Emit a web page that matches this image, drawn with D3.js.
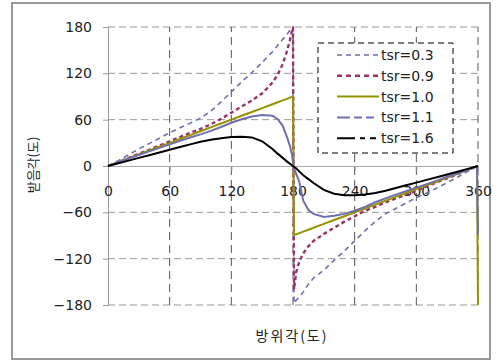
<!DOCTYPE html>
<html>
<head>
<meta charset="utf-8">
<script src="https://cdn.jsdelivr.net/npm/d3@7"></script>
<style>
  body { margin: 0; background: #fff; }
  svg { font-family: "DejaVu Sans", sans-serif; }
  .kr { font-family: "Noto Sans CJK KR", sans-serif; }
</style>
</head>
<body>
<svg id="chart" width="498" height="363"></svg>
<script>
// azimuth angle (deg)
var theta = [0,10,20,30,40,50,60,70,80,90,100,110,120,130,140,150,160,165,170,174,177,179,180,
             181,183,186,190,195,200,210,220,230,240,250,260,270,280,290,300,310,320,330,340,350,359,360]

// angle of attack (deg)
var tsr03 = [0,7,14.5,22,29,36,43,49.5,55.5,62,71,83,96,109,121,134,148,156,164,170,176,179,180,
             -178,-174,-170,-163,-153,-145,-135,-122,-110,-97,-84,-72,-62,-55,-48,-41,-35,-28.5,-21.5,-14.5,-7,-0.7,0]
var tsr09 = [0,5,10.5,16,21,26.5,32,37.5,43,48,54,61,69,77,85,94,108,118,132,148,163,175,180,
             -160,-138,-124,-113,-104,-97,-88,-80,-72,-65,-58,-53,-47,-42,-37,-32,-26.5,-21,-16,-10.5,-5,-0.5,0]
var tsr10 = [0,5,10,15,20,25,30,35,40,45,50,55,60,65,70,75,80,82.5,85,87,88.5,89.5,90,
             -89,-88.5,-87,-85,-82.5,-80,-75,-70,-65,-60,-55,-50,-45,-40,-35,-30,-25,-20,-15,-10,-5,-0.5,-180]
var tsr11 = [0,4.8,9.5,14.2,19,23.5,28,32.5,37,41,45.5,50.5,56,60.5,64,66,65,61,52,38,26,15,5,
             -3,-10,-20,-45,-57,-62,-66,-64.5,-62,-58,-53,-47,-42,-37,-32.5,-28,-23.5,-19,-14,-9.5,-4.8,-0.5,-88]
var tsr16 = [0,3.5,7,10.5,14,17.5,21,24.5,28,31.5,34,36,37.5,38,37,32,22,16,10.5,6,3,1,0,
             -1,-3,-7,-12,-17,-22,-31,-36,-38,-38,-37,-35,-32,-28.5,-25,-21.5,-18,-14.5,-11,-7.5,-3.7,-0.3,0]

var seriesNames = ['tsr=0.3','tsr=0.9','tsr=1.0','tsr=1.1','tsr=1.6']
var xTicks = [0,60,120,180,240,300,360]
var yTicks = [-180,-120,-60,0,60,120,180]

var svg = d3.select('#chart')

// outer frame
svg.append('rect')
  .attr('x', 12).attr('y', 3).attr('width', 478).attr('height', 356)
  .attr('fill', 'none').attr('stroke', '#999').attr('stroke-width', 2)

var x = d3.scaleLinear().domain([0, 360]).range([108, 478])
var y = d3.scaleLinear().domain([-180, 180]).range([305, 27])

// grid
svg.append('g').selectAll('line')
  .data(yTicks.filter(d => d != 0)).enter().append('line')
  .attr('x1', x(0)).attr('x2', x(360))
  .attr('y1', d => y(d)).attr('y2', d => y(d))
  .attr('stroke', '#999').attr('stroke-dasharray', '7,4')

svg.append('g').selectAll('line')
  .data(xTicks.filter(d => d != 0)).enter().append('line')
  .attr('x1', d => x(d)).attr('x2', d => x(d))
  .attr('y1', y(-180)).attr('y2', y(180))
  .attr('stroke', '#555').attr('stroke-dasharray', '8,5')

// y axis
var yAxis = svg.append('g')
  .attr('transform', 'translate(' + x(0) + ',0)')
  .call(d3.axisLeft(y).tickValues(yTicks).tickSize(5).tickPadding(11))
yAxis.select('.domain').attr('stroke', '#999')
yAxis.selectAll('.tick line').attr('stroke', '#999')
yAxis.selectAll('text').attr('font-size', '14px').attr('fill', '#222')
  .attr('font-family', '"DejaVu Sans", sans-serif')

// x axis on the zero line
var xAxis = svg.append('g')
  .attr('transform', 'translate(0,' + y(0) + ')')
  .call(d3.axisBottom(x).tickValues(xTicks).tickSize(5).tickPadding(15))
xAxis.select('.domain').attr('stroke', '#aaa')
xAxis.selectAll('.tick line').attr('stroke', '#999')
xAxis.selectAll('text').attr('font-size', '14px').attr('fill', '#222')
  .attr('font-family', '"DejaVu Sans", sans-serif')

// series
var styles = [
  {data: tsr03, color: '#6f6fb0', width: 1.6, dash: '5,4', legendDash: '5,4'},
  {data: tsr09, color: '#993366', width: 2.4, dash: '4,3', legendDash: '5,4'},
  {data: tsr10, color: '#939300', width: 2, dash: null, legendDash: null},
  {data: tsr11, color: '#6f6fb0', width: 2, dash: null, legendDash: '13,4,8,4,8'},
  {data: tsr16, color: '#000', width: 2, dash: null, legendDash: '18,5,5,5,6'}
]

var line = d3.line()
  .x(d => x(d[0]))
  .y(d => y(d[1]))

styles.forEach(function(s) {
  svg.append('path')
    .attr('d', line(theta.map((t, i) => [t, s.data[i]])))
    .attr('fill', 'none')
    .attr('stroke', s.color)
    .attr('stroke-width', s.width)
    .attr('stroke-dasharray', s.dash)
})

// legend
var lg = svg.append('g')
lg.append('rect')
  .attr('x', 318).attr('y', 43).attr('width', 135).attr('height', 110)
  .attr('fill', '#fff').attr('stroke', '#000').attr('stroke-dasharray', '6,4')

seriesNames.forEach(function(name, i) {
  var ly = 55 + i * 20.8
  var s = styles[i]
  lg.append('line')
    .attr('x1', 337).attr('x2', 379).attr('y1', ly).attr('y2', ly)
    .attr('stroke', s.color).attr('stroke-width', s.width)
    .attr('stroke-dasharray', s.legendDash)
  lg.append('text')
    .attr('x', 381).attr('y', ly + 5)
    .attr('font-size', '14px').attr('fill', '#222')
    .text(name)
})

// axis titles
svg.append('text').attr('class', 'kr')
  .attr('transform', 'translate(38,165) rotate(-90)')
  .attr('text-anchor', 'middle').attr('font-size', '13px').attr('fill', '#222')
  .text('받음각(도)')

svg.append('text').attr('class', 'kr')
  .attr('x', 292).attr('y', 341)
  .attr('text-anchor', 'middle').attr('font-size', '14px').attr('fill', '#222')
  .attr('letter-spacing', '2px')
  .text('방위각(도)')
</script>
</body>
</html>
